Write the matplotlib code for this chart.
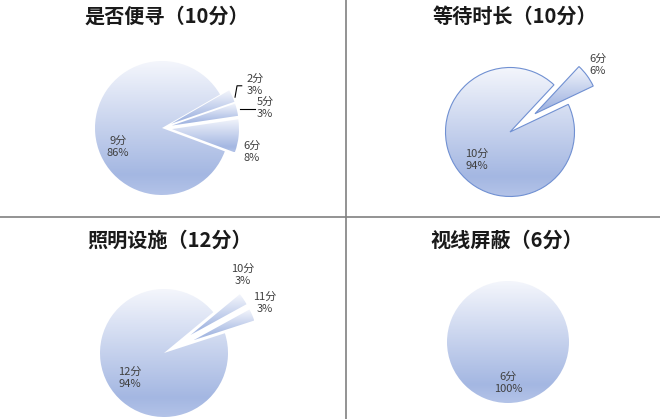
import numpy as np
import matplotlib
matplotlib.use('Agg')
import matplotlib.pyplot as plt
from matplotlib.colors import LinearSegmentedColormap
from matplotlib.lines import Line2D

plt.rcParams['font.family'] = ['Noto Sans CJK SC', 'DejaVu Sans']

# data
titles = ['是否便寻（10分）', '等待时长（10分）', '照明设施（12分）', '视线屏蔽（6分）']
tl_labels = ['2分', '5分', '6分', '9分']
tl_pct = [3, 3, 8, 86]
tr_labels = ['6分', '10分']
tr_pct = [6, 94]
bl_labels = ['10分', '11分', '12分']
bl_pct = [3, 3, 94]
br_labels = ['6分']
br_pct = [100]

W, H = 660, 419
fig = plt.figure(figsize=(6.6, 4.19), dpi=100)

cmap = LinearSegmentedColormap.from_list(
    'excel', [(0, '#F4F6FC'), (0.85, '#A4B7E2'), (1, '#B3C3E8')])
grad = np.linspace(0, 1, 256).reshape(-1, 1)


def pie_axes(cx, cy, r, half=110):
    ax = fig.add_axes([(cx - half) / W, 1 - (cy + half) / H, 2 * half / W, 2 * half / H])
    ax.lim = half / r
    return ax


def draw_pie(ax, pct, labels, start, explode, label_pos, edge='none'):
    wedges, _ = ax.pie(pct, startangle=start, counterclock=False, explode=explode,
                       wedgeprops=dict(edgecolor=edge, linewidth=0.8))
    for w in wedges:
        ext = w.get_path().get_extents()
        img = ax.imshow(grad, extent=[ext.x0, ext.x1, ext.y0, ext.y1], origin='upper',
                        cmap=cmap, aspect='auto', interpolation='bicubic', zorder=1)
        img.set_clip_path(w)
        w.set_facecolor('none')
        w.set_zorder(2)
    for lab, p, (x, y) in zip(labels, pct, label_pos):
        ax.text(x, y, f'{lab}\n{p}%', ha='center', va='center', fontsize=8,
                color='#404040', linespacing=1.25, zorder=3)
    ax.set_xlim(-ax.lim, ax.lim)
    ax.set_ylim(-ax.lim, ax.lim)
    ax.set_aspect('equal')
    ax.axis('off')


ax1 = pie_axes(162, 128, 67)
draw_pie(ax1, tl_pct, tl_labels, 30, [0.15, 0.15, 0.15, 0],
         [(1.39, 0.64), (1.54, 0.30), (1.34, -0.36), (-0.66, -0.28)])
ax1.plot([1.09, 1.12, 1.19], [0.46, 0.63, 0.63], color='black', lw=0.8, zorder=3)
ax1.plot([1.16, 1.39], [0.28, 0.28], color='black', lw=0.8, zorder=3)

ax2 = pie_axes(510, 132, 64.5)
draw_pie(ax2, tr_pct, tr_labels, 47, [0.48, 0],
         [(1.36, 1.04), (-0.51, -0.43)], edge='#7090D2')

ax3 = pie_axes(164, 353, 64)
draw_pie(ax3, bl_pct, bl_labels, 39.6, [0.5, 0.5, 0],
         [(1.23, 1.22), (1.58, 0.78), (-0.53, -0.39)])

ax4 = pie_axes(508, 342, 61)
draw_pie(ax4, br_pct, br_labels, 90, [0], [(0, -0.67)])

# titles
for t, (x, y) in zip(titles, [(167, 16), (515, 16), (170, 240), (507, 240)]):
    fig.text(x / W, 1 - y / H, t, ha='center', va='center', fontsize=14.5,
             fontweight='bold', color='#1a1a1a')

# dividers
fig.add_artist(Line2D([346 / W, 346 / W], [0, 1], color='#808080', lw=1.2))
fig.add_artist(Line2D([0, 1], [1 - 217 / H, 1 - 217 / H], color='#808080', lw=1.2))

fig.savefig('out.png', dpi=100)
